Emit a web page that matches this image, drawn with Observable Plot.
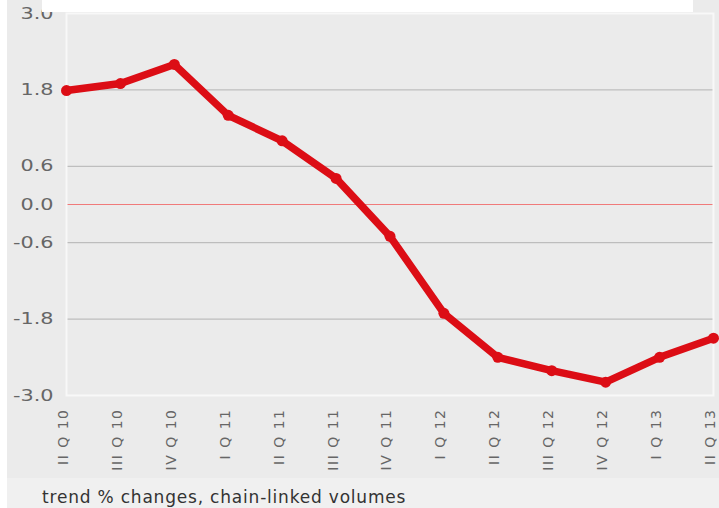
<!DOCTYPE html>
<html>
<head>
<meta charset="utf-8">
<script src="https://cdn.jsdelivr.net/npm/d3@7"></script>
<script src="https://cdn.jsdelivr.net/npm/@observablehq/plot@0.6"></script>
<style>
  html, body { margin: 0; padding: 0; background: #ffffff; }
  #wrap { position: relative; width: 719px; height: 508px; overflow: hidden; }
  #bg { position: absolute; left: 7px; top: 0; width: 712px; height: 478px; background: #ebebeb; }
  #chart { position: absolute; left: 0; top: 0; }
  #titlebox { position: absolute; left: 42px; top: 0; width: 651px; height: 12px; background: #ffffff; }
  #caption { position: absolute; left: 7px; top: 478px; width: 712px; height: 30px; background: #f0f0f0;
             font-family: "DejaVu Sans", sans-serif; font-size: 17px; letter-spacing: 0.8px; color: #333;
             line-height: 38px; text-indent: 35px; }
</style>
</head>
<body>
<div id="wrap">
  <div id="bg"></div>
  <div id="chart"></div>
  <div id="titlebox"></div>
  <div id="caption">trend % changes, chain-linked volumes</div>
</div>
<script>
const quarters = ["II Q 10","III Q 10","IV Q 10","I Q 11","II Q 11","III Q 11","IV Q 11","I Q 12","II Q 12","III Q 12","IV Q 12","I Q 13","II Q 13"];
const values = [1.79, 1.90, 2.20, 1.40, 1.00, 0.41, -0.50, -1.71, -2.40, -2.61, -2.79, -2.40, -2.10];
const yTicks = [3.0, 1.8, 0.6, 0.0, -0.6, -1.8, -3.0];
const gridValues = [1.8, 0.6, -0.6, -1.8];
const zeroLine = [0];

const data = quarters.map((q, i) => ({quarter: q, value: values[i]}));
const red = "#dc0d15";

const chart = Plot.plot({
  width: 719,
  height: 478,
  marginLeft: 66,
  marginRight: 6,
  marginTop: 13,
  marginBottom: 83,
  style: {background: "transparent", fontFamily: "DejaVu Sans, sans-serif", color: "#666", overflow: "visible"},
  x: {type: "point", domain: quarters, padding: 0, round: false, label: null},
  y: {domain: [-3, 3], label: null},
  marks: [
    Plot.ruleY(gridValues, {stroke: "#b3b3b3", strokeWidth: 1}),
    Plot.ruleY(zeroLine, {stroke: "#f07a7a", strokeWidth: 1}),
    Plot.frame({stroke: "#f8f8f8", strokeWidth: 2}),
    Plot.axisY({ticks: yTicks, tickFormat: d => d.toFixed(1), tickSize: 0, tickPadding: 13, fontSize: 16, fill: "#666", label: null}),
    Plot.axisX({tickRotate: -90, tickSize: 0, tickPadding: 13, fontSize: 14, fill: "#666", label: null, dx: -3}),
    Plot.line(data, {x: "quarter", y: "value", stroke: red, strokeWidth: 7.5, strokeLinejoin: "round", strokeLinecap: "round"}),
    Plot.dot(data, {x: "quarter", y: "value", r: 5.5, fill: red, stroke: "none"})
  ]
});
document.getElementById("chart").appendChild(chart);

// widen y tick labels and space x tick labels to match the reference's lettering
chart.querySelectorAll('g[aria-label="y-axis tick label"] text').forEach(t => {
  const tr = t.getAttribute("transform") || "";
  t.setAttribute("transform", tr + " scale(1.3,1)");
});
chart.querySelectorAll('g[aria-label="x-axis tick label"] text').forEach(t => {
  t.setAttribute("letter-spacing", "1.5");
});
</script>
</body>
</html>
